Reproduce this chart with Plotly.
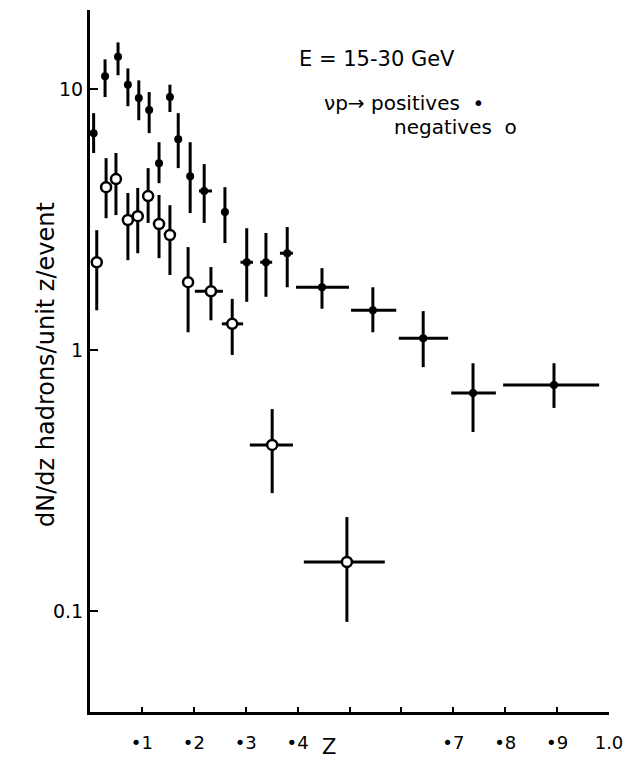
import plotly.graph_objects as go
import numpy as np

# Positives (filled dots)
z_pos = [0.007, 0.029, 0.054, 0.073, 0.094, 0.114, 0.133, 0.154, 0.170, 0.193,
         0.220, 0.260, 0.302, 0.339, 0.380, 0.447, 0.545, 0.642, 0.738, 0.894]
v_pos = [6.78, 11.2, 13.3, 10.4, 9.24, 8.31, 5.2, 9.32, 6.43, 4.64,
         4.07, 3.38, 2.17, 2.17, 2.35, 1.74, 1.42, 1.11, 0.684, 0.734]
v_pos_hi = [8.09, 13.0, 15.1, 12.0, 10.8, 9.74, 6.26, 10.4, 8.09, 6.26,
            5.16, 4.21, 2.93, 2.81, 2.96, 2.06, 1.74, 1.41, 0.89, 0.89]
v_pos_lo = [5.69, 9.32, 11.3, 8.6, 7.6, 6.78, 4.36, 8.17, 4.98, 3.35,
            3.07, 2.57, 1.53, 1.60, 1.74, 1.44, 1.17, 0.86, 0.485, 0.60]
z_pos_lo = [0.007, 0.029, 0.054, 0.073, 0.094, 0.114, 0.133, 0.154, 0.170, 0.193,
            0.210, 0.260, 0.290, 0.328, 0.366, 0.397, 0.503, 0.595, 0.696, 0.796]
z_pos_hi = [0.007, 0.029, 0.054, 0.073, 0.094, 0.114, 0.133, 0.154, 0.170, 0.193,
            0.235, 0.260, 0.314, 0.351, 0.391, 0.499, 0.590, 0.690, 0.782, 0.981]

# Negatives (open circles)
z_neg = [0.013, 0.031, 0.050, 0.073, 0.092, 0.112, 0.133, 0.154, 0.189, 0.233,
         0.274, 0.351, 0.495]
v_neg = [2.17, 4.21, 4.52, 3.15, 3.26, 3.89, 3.04, 2.76, 1.82, 1.68,
         1.26, 0.433, 0.154]
v_neg_hi = [2.88, 5.44, 5.69, 4.0, 4.18, 4.98, 3.93, 3.59, 2.48, 2.08,
            1.57, 0.594, 0.229]
v_neg_lo = [1.42, 3.20, 3.29, 2.21, 2.35, 3.07, 2.25, 1.94, 1.17, 1.30,
            0.957, 0.283, 0.0908]
z_neg_lo = [0.013, 0.031, 0.050, 0.073, 0.092, 0.112, 0.133, 0.154, 0.189, 0.202,
            0.254, 0.308, 0.412]
z_neg_hi = [0.013, 0.031, 0.050, 0.073, 0.092, 0.112, 0.133, 0.154, 0.189, 0.256,
            0.295, 0.391, 0.568]

x_tickvals = [0.1, 0.2, 0.3, 0.4, 0.5, 0.6, 0.7, 0.8, 0.9, 1.0]
x_ticktext = ["•1", "•2", "•3", "•4", "", "", "•7", "•8", "•9", "1.0"]
y_tickvals = [10, 1, 0.1]
y_ticktext = ["10", "1", "0.1"]

FONT = "DejaVu Sans"

W, H = 625, 758
ML, MR, MT, MB = 90, 16, 10, 46
plot_w = W - ML - MR
plot_h = H - MT - MB


def py(pixel_y):
    return 1 - (pixel_y - MT) / plot_h


def px(pixel_x):
    return (pixel_x - ML) / plot_w


def errs(c, lo, hi):
    c = np.array(c); lo = np.array(lo); hi = np.array(hi)
    return (hi - c).tolist(), (c - lo).tolist()


fig = go.Figure()

ep, em = errs(v_pos, v_pos_lo, v_pos_hi)
xp, xm = errs(z_pos, z_pos_lo, z_pos_hi)
fig.add_trace(go.Scatter(
    x=z_pos, y=v_pos, mode="markers", name="positives",
    marker=dict(symbol="circle", size=8, color="black"),
    error_y=dict(type="data", array=ep, arrayminus=em, color="black", thickness=3, width=0),
    error_x=dict(type="data", array=xp, arrayminus=xm, color="black", thickness=3, width=0),
))

en, enm = errs(v_neg, v_neg_lo, v_neg_hi)
xn, xnm = errs(z_neg, z_neg_lo, z_neg_hi)
fig.add_trace(go.Scatter(
    x=z_neg, y=v_neg, mode="markers", name="negatives",
    marker=dict(symbol="circle", size=10, color="white", line=dict(color="black", width=2.5)),
    error_y=dict(type="data", array=en, arrayminus=enm, color="black", thickness=3, width=0),
    error_x=dict(type="data", array=xn, arrayminus=xnm, color="black", thickness=3, width=0),
))

fig.update_layout(
    width=W, height=H,
    margin=dict(l=ML, r=MR, t=MT, b=MB, autoexpand=False),
    paper_bgcolor="white", plot_bgcolor="white",
    showlegend=False,
    font=dict(family=FONT, color="black", size=17),
    xaxis=dict(
        range=[0, 1.0], showgrid=False, zeroline=False, automargin=False,
        showline=True, linecolor="black", linewidth=3,
        ticks="inside", ticklen=5, tickwidth=2, tickcolor="black",
        tickvals=x_tickvals, ticktext=x_ticktext,
        tickfont=dict(size=18, family=FONT), ticklabelstandoff=12,
    ),
    yaxis=dict(
        type="log", range=[np.log10(0.041), np.log10(20.1)],
        showgrid=False, zeroline=False, automargin=False,
        showline=True, linecolor="black", linewidth=3,
        ticks="inside", ticklen=8, tickwidth=2, tickcolor="black",
        tickvals=y_tickvals, ticktext=y_ticktext,
        tickfont=dict(size=19, family=FONT),
    ),
)

fig.add_annotation(text="Z", x=0.46, xref="x", y=py(747), yref="paper",
                   showarrow=False, font=dict(size=21, family=FONT), yanchor="middle")
fig.add_annotation(text="dN/dz hadrons/unit z/event", textangle=-90,
                   x=px(30), xref="paper", y=py(365), yref="paper",
                   showarrow=False, font=dict(size=24, family=FONT))
fig.add_annotation(text="E = 15-30 GeV", x=px(297), xref="paper", y=py(45), yref="paper",
                   xanchor="left", showarrow=False, font=dict(size=21, family=FONT))
fig.add_annotation(text="νp→ positives  •", x=px(322), xref="paper", y=py(89), yref="paper",
                   xanchor="left", showarrow=False, font=dict(size=20, family=FONT))
fig.add_annotation(text="negatives  o", x=px(392), xref="paper", y=py(113), yref="paper",
                   xanchor="left", showarrow=False, font=dict(size=20, family=FONT))

fig.write_html("out.html")
